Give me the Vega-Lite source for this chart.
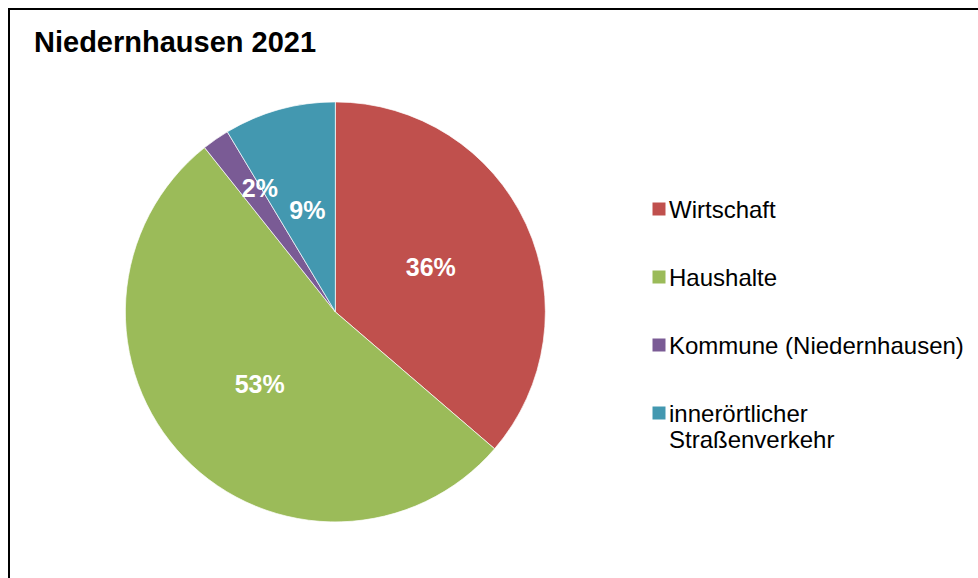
{
  "$schema": "https://vega.github.io/schema/vega-lite/v6.json",
  "width": 978,
  "height": 578,
  "autosize": {"type": "fit", "contains": "padding"},
  "padding": {"left": 8, "top": 8, "right": -3, "bottom": -3},
  "background": "#ffffff",
  "title": {
    "text": "Niedernhausen 2021",
    "anchor": "start",
    "frame": "group",
    "orient": "top",
    "baseline": "alphabetic",
    "offset": -73,
    "dx": 25,
    "font": "Liberation Sans",
    "fontSize": 29,
    "fontWeight": "bold",
    "color": "#000000"
  },
  "layer": [
    {
      "data": {"values": [{"Rahmen": "Diagrammbereich"}]},
      "mark": {"type": "rect", "fill": "transparent", "stroke": "#000000", "strokeWidth": 2},
      "encoding": {}
    },
    {
      "data": {
        "values": [
          {"Bereich": "Wirtschaft", "Anteil": 0.363, "Reihenfolge": 1},
          {"Bereich": "Haushalte", "Anteil": 0.53, "Reihenfolge": 2},
          {"Bereich": "Kommune (Niedernhausen)", "Anteil": 0.021, "Reihenfolge": 3},
          {"Bereich": "innerörtlicher Straßenverkehr", "Anteil": 0.086, "Reihenfolge": 4}
        ]
      },
      "encoding": {
        "theta": {"field": "Anteil", "type": "quantitative", "stack": true},
        "order": {"field": "Reihenfolge", "type": "quantitative"},
        "color": {
          "field": "Bereich",
          "type": "nominal",
          "scale": {
            "domain": ["Wirtschaft", "Haushalte", "Kommune (Niedernhausen)", "innerörtlicher Straßenverkehr"],
            "range": ["#C0504D", "#9BBB59", "#7A5B95", "#4398B0"]
          },
          "legend": {
            "orient": "none",
            "legendX": 638,
            "legendY": 188,
            "direction": "vertical",
            "title": null,
            "padding": 0,
            "symbolType": "square",
            "symbolSize": 169,
            "symbolStrokeWidth": 0,
            "labelFont": "Liberation Sans",
            "labelFontSize": 24,
            "labelColor": "#000000",
            "labelOffset": -2,
            "labelLimit": 400,
            "labelBaseline": "alphabetic",
            "labelLineHeight": 27,
            "rowPadding": 42,
            "labelExpr": "datum.label == 'innerörtlicher Straßenverkehr' ? ['innerörtlicher', 'Straßenverkehr'] : datum.label",
            "encoding": {
              "labels": {
                "dy": {"value": 8.5}
              }
            }
          }
        }
      },
      "layer": [
        {
          "mark": {
            "type": "arc",
            "outerRadius": 210,
            "x": {"expr": "width * 0.3361"},
            "y": {"expr": "height * 0.5305"},
            "stroke": "#ffffff",
            "strokeWidth": 0.7
          }
        },
        {
          "mark": {
            "type": "text",
            "radius": {"expr": "datum.Anteil < 0.05 ? 150 : 105"},
            "dx": {"expr": "datum.Anteil < 0.05 ? 10 : 0"},
            "x": {"expr": "width * 0.3361"},
            "y": {"expr": "height * 0.5305"},
            "font": "Liberation Sans",
            "fontSize": 25,
            "fontWeight": "bold",
            "fill": "#ffffff",
            "align": "center",
            "baseline": "middle"
          },
          "encoding": {
            "text": {"field": "Anteil", "type": "quantitative", "format": ".0%"},
            "color": {"value": "#ffffff"}
          }
        }
      ]
    }
  ],
  "config": {
    "view": {"stroke": null}
  }
}
